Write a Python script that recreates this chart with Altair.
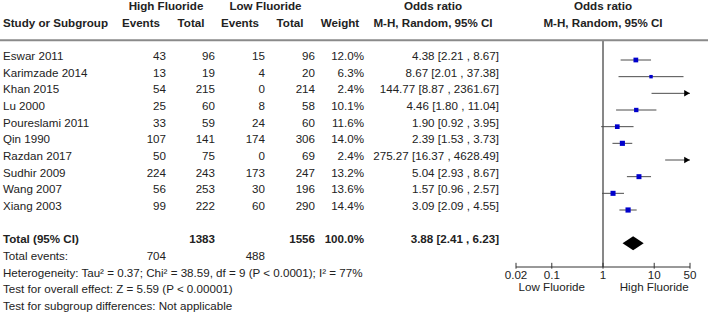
import altair as alt
import pandas as pd

# ---------------- data ----------------
studies = ["Eswar 2011", "Karimzade 2014", "Khan 2015", "Lu 2000", "Poureslami 2011",
           "Qin 1990", "Razdan 2017", "Sudhir 2009", "Wang 2007", "Xiang 2003"]
high_events = [43, 13, 54, 25, 33, 107, 50, 224, 56, 99]
high_total = [96, 19, 215, 60, 59, 141, 75, 243, 253, 222]
low_events = [15, 4, 0, 8, 24, 174, 0, 173, 30, 60]
low_total = [96, 20, 214, 58, 60, 306, 69, 247, 196, 290]
weights = [12.0, 6.3, 2.4, 10.1, 11.6, 14.0, 2.4, 13.2, 13.6, 14.4]
or_est = [4.38, 8.67, 144.77, 4.46, 1.90, 2.39, 275.27, 5.04, 1.57, 3.09]
ci_low = [2.21, 2.01, 8.87, 1.80, 0.92, 1.53, 16.37, 2.93, 0.96, 2.09]
ci_high = [8.67, 37.38, 2361.67, 11.04, 3.95, 3.73, 4628.49, 8.67, 2.57, 4.55]

total_high = 1383
total_low = 1556
total_events_high = 704
total_events_low = 488
pooled = [3.88, 2.41, 6.23]

footer_lines = [
    "Heterogeneity: Tau\u00b2 = 0.37; Chi\u00b2 = 38.59, df = 9 (P < 0.0001); I\u00b2 = 77%",
    "Test for overall effect: Z = 5.59 (P < 0.00001)",
    "Test for subgroup differences: Not applicable",
]

tick_values = [0.02, 0.1, 1, 10, 50]
tick_labels = ["0.02", "0.1", "1", "10", "50"]
side_labels = ["Low Fluoride", "High Fluoride"]
side_pos = [0.1, 10]

XMIN, XMAX = 0.02, 50

# ---------------- tables ----------------
df = pd.DataFrame({
    "study": studies, "he": high_events, "ht": high_total, "le": low_events,
    "lt": low_total, "w": weights, "or": or_est, "lo": ci_low, "hi": ci_high,
})
df["row"] = range(len(df))
df["mrow"] = df["row"] + 0.18
df["w_s"] = df["w"].map(lambda v: f"{v:.1f}%")
df["or_s"] = [f"{o:.2f} [{l:.2f} , {h:.2f}]" for o, l, h in zip(df["or"], df["lo"], df["hi"])]
for c in ["he", "ht", "le", "lt"]:
    df[c + "_s"] = df[c].astype(str)
df["hi_c"] = df["hi"].clip(upper=XMAX)
pts = df[df["or"] <= XMAX]
arrows = df[df["hi"] > XMAX].assign(ax=XMAX)

TOTAL_ROW = 11
diamond = pd.DataFrame({
    "x": [pooled[1], pooled[0], pooled[2]],
    "y1": [TOTAL_ROW + 0.18, TOTAL_ROW + 0.18 - 0.42, TOTAL_ROW + 0.18],
    "y2": [TOTAL_ROW + 0.18, TOTAL_ROW + 0.18 + 0.42, TOTAL_ROW + 0.18],
})
foot = pd.DataFrame({"txt": footer_lines, "row": [13, 14, 15]})
ticks = pd.DataFrame({"v": tick_values, "lab": tick_labels})
sides = pd.DataFrame({"v": side_pos, "lab": side_labels})

AXIS_ROW = 12.6

FONT = "Liberation Sans"
FS = 11.6
TXT = "#222222"

yscale = alt.Scale(domain=[-3.42, 15.42], range=[0, 314])
xscale = alt.Scale(type="log", domain=[XMIN, XMAX], range=[516, 690])


def Y(field="row"):
    return alt.Y(f"{field}:Q", scale=yscale, axis=None)


def X(field):
    return alt.X(f"{field}:Q", scale=xscale, axis=None)


def col(data, field, x, align="right", bold=False, row="row"):
    return alt.Chart(data).mark_text(
        align=align, baseline="middle", font=FONT, fontSize=FS,
        fontWeight="bold" if bold else "normal", color=TXT,
    ).encode(x=alt.value(x), y=Y(row), text=alt.Text(f"{field}:N"))


def label(text, x, row, align="center", bold=True):
    return alt.Chart(pd.DataFrame({"t": [text], "row": [row]})).mark_text(
        align=align, baseline="middle", font=FONT, fontSize=FS,
        fontWeight="bold" if bold else "normal", color=TXT,
    ).encode(x=alt.value(x), y=Y(), text="t:N")


layers = []

# forest plot (first so it defines the x scale)
ref = pd.DataFrame({"x": [1.0], "r1": [-1.0], "r2": [AXIS_ROW]})
layers.append(
    alt.Chart(ref).mark_rule(color="#111111", strokeWidth=1).encode(
        x=X("x"), y=Y("r1"), y2="r2:Q"
    )
)
layers.append(
    alt.Chart(df).mark_rule(color="#4d4d4d", strokeWidth=1).encode(
        x=X("lo"), x2="hi_c:Q", y=Y("mrow")
    )
)
layers.append(
    alt.Chart(pts).mark_point(shape="square", filled=True, color="#0000cc", opacity=1).encode(
        x=X("or"), y=Y("mrow"),
        size=alt.Size("w:Q", scale=alt.Scale(domain=[0, 14.4], range=[0, 27]), legend=None)
    )
)
layers.append(
    alt.Chart(arrows).mark_point(shape="triangle-right", filled=True, color="#000000", opacity=1,
                                 size=42, xOffset=-3).encode(
        x=X("ax"), y=Y("mrow")
    )
)
layers.append(
    alt.Chart(diamond).mark_area(color="#000000", orient="vertical", interpolate="linear").encode(
        x=X("x"), y=Y("y1"), y2="y2:Q"
    )
)

# axis
axis_df = pd.DataFrame({"a": [XMIN], "b": [XMAX], "row": [AXIS_ROW]})
layers.append(
    alt.Chart(axis_df).mark_rule(color="#333333", strokeWidth=1).encode(
        x=X("a"), x2="b:Q", y=Y()
    )
)
ticks["r1"] = AXIS_ROW - 0.25
ticks["r2"] = AXIS_ROW + 0.1
ticks["lr"] = 13.15
layers.append(
    alt.Chart(ticks).mark_rule(color="#333333", strokeWidth=1).encode(
        x=X("v"), y=Y("r1"), y2="r2:Q"
    )
)
layers.append(
    alt.Chart(ticks).mark_text(baseline="middle", align="center", font=FONT, fontSize=FS, color=TXT).encode(
        x=X("v"), y=Y("lr"), text="lab:N"
    )
)
sides["lr"] = 13.85
layers.append(
    alt.Chart(sides).mark_text(baseline="middle", align="center", font=FONT, fontSize=FS, color=TXT).encode(
        x=X("v"), y=Y("lr"), text="lab:N"
    )
)

# headers
layers += [
    label("High Fluoride", 166, -3),
    label("Low Fluoride", 265.5, -3),
    label("Odds ratio", 433, -3),
    label("Odds ratio", 603, -3),
    label("Study or Subgroup", 3, -2, align="left"),
    label("Events", 141, -2),
    label("Total", 191, -2),
    label("Events", 240, -2),
    label("Total", 290, -2),
    label("Weight", 340, -2),
    label("M-H, Random, 95% CI", 433, -2),
    label("M-H, Random, 95% CI", 603, -2),
]

# header separator
sep = pd.DataFrame({"row": [-1.0]})
layers.append(
    alt.Chart(sep).mark_rule(color="#8a8a8a", strokeWidth=2).encode(
        x=alt.value(0), x2=alt.value(708), y=Y()
    )
)

# study rows
layers += [
    col(df, "study", 3, align="left"),
    col(df, "he_s", 166),
    col(df, "ht_s", 215),
    col(df, "le_s", 265),
    col(df, "lt_s", 315),
    col(df, "w_s", 364),
    col(df, "or_s", 499),
]

# total rows
tot = pd.DataFrame({
    "row": [TOTAL_ROW], "lab": ["Total (95% CI)"], "ht": [str(total_high)], "lt": [str(total_low)],
    "w": ["100.0%"], "or": [f"{pooled[0]:.2f} [{pooled[1]:.2f} , {pooled[2]:.2f}]"],
})
layers += [
    col(tot, "lab", 3, align="left", bold=True),
    col(tot, "ht", 215, bold=True),
    col(tot, "lt", 315, bold=True),
    col(tot, "w", 364, bold=True),
    col(tot, "or", 499, bold=True),
]
ev = pd.DataFrame({"row": [12], "lab": ["Total events:"],
                   "h": [str(total_events_high)], "l": [str(total_events_low)]})
layers += [
    col(ev, "lab", 3, align="left"),
    col(ev, "h", 166),
    col(ev, "l", 265),
    col(foot, "txt", 3, align="left"),
]

chart = alt.layer(*layers).properties(
    width=708, height=314, padding=0, autosize=alt.AutoSizeParams(type="none"),
    background="white",
).configure_view(stroke=None)

chart.save("out.html", embed_options={"renderer": "svg", "actions": False})
